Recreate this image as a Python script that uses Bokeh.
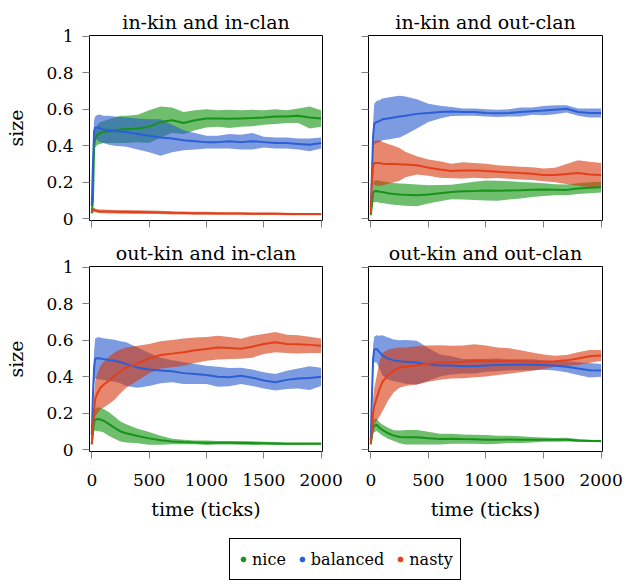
from bokeh.plotting import figure
from bokeh.models import Range1d, FixedTicker, CustomJSTickFormatter, Legend, LegendItem, ColumnDataSource
from bokeh.layouts import column, row
from bokeh.embed import file_html
from bokeh.resources import INLINE

# ---------------- data ----------------
T = [0, 10, 20, 30, 50, 75, 100, 150, 200, 250, 300, 400, 500, 600, 700, 800, 900,
     1000, 1100, 1200, 1300, 1400, 1500, 1600, 1700, 1800, 1900, 2000]

titles = ["in-kin and in-clan", "in-kin and out-clan", "out-kin and in-clan", "out-kin and out-clan"]
series = ["nice", "balanced", "nasty"]
x_ticks = [0, 500, 1000, 1500, 2000]
y_ticks = [0, 0.2, 0.4, 0.6, 0.8, 1]

p1_nice_mean = [0.03, 0.10, 0.40, 0.44, 0.46, 0.47, 0.475, 0.48, 0.485, 0.49, 0.49, 0.495, 0.505, 0.53, 0.54, 0.525, 0.54, 0.55, 0.55, 0.548, 0.55, 0.552, 0.555, 0.56, 0.56, 0.565, 0.555, 0.55]
p1_nice_sd = [0.01, 0.03, 0.05, 0.05, 0.055, 0.06, 0.06, 0.065, 0.07, 0.075, 0.075, 0.075, 0.09, 0.085, 0.07, 0.06, 0.055, 0.05, 0.045, 0.05, 0.045, 0.045, 0.04, 0.04, 0.035, 0.04, 0.06, 0.045]
p1_bal_mean = [0.07, 0.30, 0.48, 0.50, 0.50, 0.495, 0.49, 0.485, 0.48, 0.478, 0.475, 0.465, 0.455, 0.445, 0.44, 0.43, 0.425, 0.42, 0.42, 0.425, 0.42, 0.425, 0.42, 0.415, 0.415, 0.41, 0.405, 0.415]
p1_bal_sd = [0.02, 0.05, 0.06, 0.06, 0.07, 0.075, 0.075, 0.08, 0.08, 0.08, 0.08, 0.085, 0.09, 0.1, 0.075, 0.055, 0.045, 0.035, 0.035, 0.04, 0.04, 0.045, 0.03, 0.03, 0.03, 0.03, 0.035, 0.03]
p1_nasty_mean = [0.04, 0.045, 0.05, 0.045, 0.042, 0.04, 0.04, 0.039, 0.038, 0.037, 0.037, 0.036, 0.035, 0.034, 0.032, 0.031, 0.03, 0.03, 0.029, 0.028, 0.028, 0.027, 0.027, 0.027, 0.026, 0.025, 0.025, 0.025]
p1_nasty_sd = [0.015, 0.015, 0.012, 0.01, 0.01, 0.01, 0.01, 0.01, 0.01, 0.01, 0.01, 0.01, 0.01, 0.009, 0.009, 0.008, 0.008, 0.008, 0.008, 0.007, 0.007, 0.007, 0.007, 0.007, 0.007, 0.006, 0.006, 0.006]

p2_nice_mean = [0.02, 0.08, 0.14, 0.15, 0.152, 0.148, 0.146, 0.14, 0.136, 0.133, 0.131, 0.128, 0.133, 0.14, 0.146, 0.15, 0.152, 0.155, 0.153, 0.155, 0.156, 0.159, 0.16, 0.159, 0.158, 0.165, 0.17, 0.173]
p2_nice_sd = [0.01, 0.03, 0.05, 0.06, 0.06, 0.06, 0.06, 0.06, 0.06, 0.06, 0.06, 0.06, 0.05, 0.045, 0.04, 0.045, 0.05, 0.055, 0.055, 0.05, 0.045, 0.04, 0.035, 0.03, 0.03, 0.03, 0.03, 0.03]
p2_bal_mean = [0.05, 0.25, 0.45, 0.52, 0.53, 0.535, 0.545, 0.55, 0.555, 0.56, 0.565, 0.575, 0.58, 0.585, 0.588, 0.585, 0.585, 0.58, 0.578, 0.58, 0.585, 0.59, 0.593, 0.598, 0.603, 0.585, 0.58, 0.58]
p2_bal_sd = [0.01, 0.03, 0.08, 0.11, 0.115, 0.115, 0.115, 0.115, 0.115, 0.115, 0.105, 0.08, 0.05, 0.035, 0.025, 0.02, 0.02, 0.02, 0.02, 0.02, 0.025, 0.02, 0.025, 0.025, 0.02, 0.02, 0.025, 0.025]
p2_nasty_mean = [0.03, 0.20, 0.29, 0.305, 0.305, 0.305, 0.302, 0.30, 0.30, 0.298, 0.297, 0.293, 0.28, 0.27, 0.262, 0.265, 0.265, 0.261, 0.258, 0.254, 0.25, 0.247, 0.24, 0.24, 0.245, 0.25, 0.243, 0.24]
p2_nasty_sd = [0.01, 0.05, 0.10, 0.12, 0.125, 0.125, 0.12, 0.11, 0.10, 0.09, 0.07, 0.05, 0.045, 0.045, 0.04, 0.045, 0.04, 0.04, 0.035, 0.035, 0.035, 0.035, 0.035, 0.04, 0.055, 0.07, 0.07, 0.065]

p3_nice_mean = [0.03, 0.10, 0.15, 0.165, 0.168, 0.165, 0.16, 0.14, 0.12, 0.10, 0.09, 0.075, 0.062, 0.052, 0.045, 0.042, 0.04, 0.038, 0.038, 0.038, 0.037, 0.036, 0.035, 0.034, 0.033, 0.033, 0.033, 0.033]
p3_nice_sd = [0.01, 0.03, 0.05, 0.06, 0.065, 0.065, 0.065, 0.065, 0.06, 0.055, 0.05, 0.04, 0.035, 0.025, 0.015, 0.012, 0.01, 0.012, 0.01, 0.01, 0.01, 0.01, 0.008, 0.008, 0.007, 0.007, 0.006, 0.006]
p3_bal_mean = [0.08, 0.30, 0.45, 0.50, 0.502, 0.50, 0.497, 0.492, 0.488, 0.48, 0.47, 0.45, 0.44, 0.435, 0.43, 0.42, 0.415, 0.41, 0.40, 0.398, 0.405, 0.395, 0.38, 0.37, 0.383, 0.39, 0.393, 0.40]
p3_bal_sd = [0.02, 0.05, 0.09, 0.11, 0.115, 0.115, 0.115, 0.115, 0.115, 0.115, 0.12, 0.11, 0.09, 0.07, 0.06, 0.06, 0.055, 0.05, 0.055, 0.05, 0.045, 0.045, 0.045, 0.045, 0.05, 0.055, 0.065, 0.05]
p3_nasty_mean = [0.03, 0.12, 0.22, 0.28, 0.31, 0.34, 0.355, 0.38, 0.405, 0.43, 0.45, 0.475, 0.50, 0.52, 0.527, 0.535, 0.545, 0.553, 0.56, 0.558, 0.554, 0.565, 0.58, 0.59, 0.58, 0.578, 0.575, 0.57]
p3_nasty_sd = [0.01, 0.05, 0.08, 0.10, 0.11, 0.12, 0.125, 0.13, 0.13, 0.12, 0.11, 0.095, 0.08, 0.075, 0.075, 0.075, 0.07, 0.065, 0.065, 0.06, 0.055, 0.06, 0.055, 0.055, 0.05, 0.05, 0.045, 0.04]

p4_nice_mean = [0.03, 0.08, 0.12, 0.13, 0.137, 0.12, 0.108, 0.09, 0.077, 0.07, 0.068, 0.068, 0.063, 0.058, 0.06, 0.058, 0.057, 0.055, 0.054, 0.056, 0.055, 0.055, 0.055, 0.054, 0.055, 0.05, 0.048, 0.047]
p4_nice_sd = [0.01, 0.02, 0.03, 0.035, 0.035, 0.03, 0.03, 0.03, 0.03, 0.035, 0.04, 0.04, 0.035, 0.03, 0.028, 0.025, 0.025, 0.025, 0.022, 0.02, 0.018, 0.015, 0.012, 0.01, 0.01, 0.008, 0.006, 0.006]
p4_bal_mean = [0.05, 0.30, 0.50, 0.55, 0.553, 0.535, 0.518, 0.50, 0.49, 0.485, 0.482, 0.478, 0.468, 0.462, 0.462, 0.458, 0.458, 0.462, 0.465, 0.466, 0.466, 0.466, 0.464, 0.46, 0.455, 0.445, 0.436, 0.435]
p4_bal_sd = [0.02, 0.06, 0.07, 0.07, 0.075, 0.09, 0.11, 0.115, 0.115, 0.115, 0.12, 0.12, 0.09, 0.06, 0.05, 0.04, 0.04, 0.035, 0.035, 0.03, 0.03, 0.03, 0.025, 0.025, 0.03, 0.035, 0.04, 0.035]
p4_nasty_mean = [0.03, 0.10, 0.20, 0.24, 0.28, 0.33, 0.37, 0.41, 0.435, 0.45, 0.455, 0.462, 0.472, 0.478, 0.48, 0.482, 0.488, 0.487, 0.485, 0.487, 0.485, 0.483, 0.482, 0.485, 0.49, 0.50, 0.512, 0.517]
p4_nasty_sd = [0.01, 0.05, 0.08, 0.10, 0.12, 0.15, 0.16, 0.14, 0.12, 0.11, 0.105, 0.105, 0.10, 0.095, 0.09, 0.09, 0.09, 0.085, 0.075, 0.07, 0.06, 0.05, 0.04, 0.03, 0.03, 0.035, 0.035, 0.03]

panels = [
    [(p1_nice_mean, p1_nice_sd), (p1_bal_mean, p1_bal_sd), (p1_nasty_mean, p1_nasty_sd)],
    [(p2_nice_mean, p2_nice_sd), (p2_bal_mean, p2_bal_sd), (p2_nasty_mean, p2_nasty_sd)],
    [(p3_nice_mean, p3_nice_sd), (p3_bal_mean, p3_bal_sd), (p3_nasty_mean, p3_nasty_sd)],
    [(p4_nice_mean, p4_nice_sd), (p4_bal_mean, p4_bal_sd), (p4_nasty_mean, p4_nasty_sd)],
]

line_colors = ["#179317", "#2b5fd3", "#e2401a"]
fill_colors = ["#0d930d", "#2658cd", "#d5370d"]
FONT = "DejaVu Serif"

fmt_num = CustomJSTickFormatter(code="return String(tick);")
fmt_none = CustomJSTickFormatter(code="return '';")


def make_panel(idx):
    top = idx < 2
    left = idx % 2 == 0
    width = 345 if left else 279
    height = 236 if top else 294
    p = figure(width=width, height=height, output_backend="svg", toolbar_location=None,
               x_range=Range1d(-20, 2012), y_range=Range1d(-0.01, 1.005),
               min_border_left=89 if left else 23, min_border_right=23 if left else 22,
               min_border_top=35 if top else 30, min_border_bottom=16 if top else 79)
    p.title.text = titles[idx]
    p.title.align = "center"
    p.title.text_font = FONT
    p.title.text_font_size = "19px"
    p.title.text_font_style = "normal"
    p.title.text_color = "black"
    p.title.standoff = 6
    p.outline_line_color = "black"
    p.outline_line_width = 1
    p.outline_line_alpha = 1
    p.xgrid.visible = False
    p.ygrid.visible = False

    for ax in (p.xaxis[0], p.yaxis[0]):
        ax.axis_line_color = None
        ax.major_tick_line_color = "#808080"
        ax.major_tick_out = 7
        ax.major_tick_in = 0
        ax.minor_tick_line_color = None
        ax.major_label_text_font = FONT
        ax.major_label_text_font_size = "17px"
        ax.major_label_text_color = "black"
        ax.major_label_standoff = 9
        ax.axis_label_text_font = FONT
        ax.axis_label_text_font_size = "19px"
        ax.axis_label_text_font_style = "normal"
        ax.axis_label_text_color = "black"
    p.xaxis.ticker = FixedTicker(ticks=x_ticks)
    p.yaxis.ticker = FixedTicker(ticks=y_ticks)

    if top:
        p.xaxis.formatter = fmt_none
        p.xaxis.major_label_text_font_size = "0px"
        p.xaxis.major_label_standoff = 0
    else:
        p.xaxis.formatter = fmt_num
        p.xaxis.major_label_standoff = 15
        p.xaxis.axis_label = "time (ticks)"
        p.xaxis.axis_label_standoff = 9
    if left:
        p.yaxis.formatter = fmt_num
        p.yaxis.axis_label = "size"
        p.yaxis.axis_label_standoff = 16
    else:
        p.yaxis.formatter = fmt_none
        p.yaxis.major_label_standoff = 0

    data = panels[idx]
    for k, (mean, sd) in enumerate(data):
        src = ColumnDataSource(dict(
            x=T, y=mean,
            lo=[m - s for m, s in zip(mean, sd)],
            hi=[m + s for m, s in zip(mean, sd)]))
        p.varea(x="x", y1="lo", y2="hi", source=src, fill_color=fill_colors[k], fill_alpha=0.6)
    for k, (mean, sd) in enumerate(data):
        p.line(T, mean, line_color=line_colors[k], line_width=2)
    return p


figs = [make_panel(i) for i in range(4)]

leg = figure(width=624, height=51, output_backend="svg", toolbar_location=None,
             x_range=Range1d(0, 1), y_range=Range1d(0, 1), min_border=0,
             outline_line_color=None)
leg.axis.visible = False
leg.xgrid.visible = False
leg.ygrid.visible = False
items = []
for k, name in enumerate(series):
    r = leg.scatter(x=[-5], y=[-5], size=5, fill_color=line_colors[k], line_color=line_colors[k])
    items.append(LegendItem(label=name, renderers=[r]))
legend = Legend(items=items, orientation="horizontal", location=(229, 1), margin=0,
                padding=7, spacing=10, glyph_width=12, glyph_height=26, label_standoff=3,
                label_text_font=FONT, label_text_font_size="16px", label_text_color="black",
                border_line_color="black", border_line_width=1, border_line_alpha=1,
                background_fill_color="white", background_fill_alpha=1)
leg.add_layout(legend, "center")

layout = column(row(figs[0], figs[1]), row(figs[2], figs[3]), leg)

open("out.html", "w").write(file_html(layout, INLINE))
